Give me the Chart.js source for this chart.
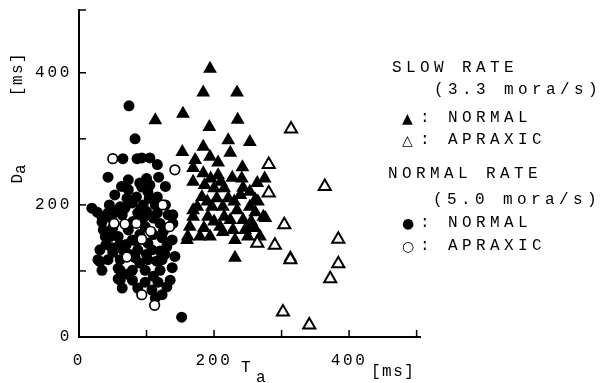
<!DOCTYPE html>
<html>
<head>
<meta charset="utf-8">
<script src="https://cdn.jsdelivr.net/npm/chart.js@4.4.1/dist/chart.umd.min.js"></script>
<style>
  html, body { margin: 0; padding: 0; background: #fff; }
  #wrap { position: relative; width: 604px; height: 383px; overflow: hidden; }
  canvas { position: absolute; left: 0; top: 0; }
  .t { position: absolute; font-family: 'Liberation Mono', 'DejaVu Sans Mono', monospace; font-size: 16px; line-height: 16px; color: #000; white-space: pre; }
  .lg { letter-spacing: 4.4px; }
  .mk { position: absolute; font-family: 'DejaVu Sans', sans-serif; font-size: 14px; line-height: 16px; color: #000; }
</style>
</head>
<body>
<div id="wrap">
  <canvas id="c" width="604" height="383"></canvas>

  <!-- axis titles -->
  <div class="t" style="left:241px; top:360px;">T</div>
  <div class="t" style="left:256px; top:370px;">a</div>
  <div class="t" style="left:371px; top:364px; letter-spacing:1.5px;">[ms]</div>
  <div class="t" style="left:18px; top:174px; transform:translate(-50%,-50%) rotate(-90deg);">D<span style="position:relative; top:3px;">a</span></div>
  <div class="t" style="left:18px; top:74px; transform:translate(-50%,-50%) rotate(-90deg); letter-spacing:1.5px;">[ms]</div>

  <!-- legend -->
  <div class="t lg" style="left:392px; top:60px;">SLOW RATE</div>
  <div class="t lg" style="left:434px; top:82px;">(3.3 mora/s)</div>
  <div class="mk" style="left:402px; top:110px;">▲</div>
  <div class="t lg" style="left:420px; top:110px;">: NORMAL</div>
  <div class="mk" style="left:402px; top:132px;">△</div>
  <div class="t lg" style="left:420px; top:132px;">: APRAXIC</div>
  <div class="t lg" style="left:388px; top:166px;">NORMAL RATE</div>
  <div class="t lg" style="left:433px; top:192px;">(5.0 mora/s)</div>
  <div class="mk" style="left:402px; top:215px;">●</div>
  <div class="t lg" style="left:420px; top:215px;">: NORMAL</div>
  <div class="mk" style="left:402px; top:238px;">○</div>
  <div class="t lg" style="left:420px; top:238px;">: APRAXIC</div>
</div>
<script>
// ---- data (T_a, D_a in ms) ----
const slowNormalT = [194,184,234,113,154,193,235,153,184,221,253,172,194,224,169,184,206,242,169,206,227,241,264,275,182,204,221,239,261,175,197,213,234,253,273,169,191,224,243,164,209,228,246,161,179,194,213,231,250,268,231,169,160,243,253,265,261,276,250,313,186,200,215,190,200,215,255,260,185,230,210,195];
const slowNormalD = [406,370,370,328,338,318,329,280,288,298,295,268,273,279,256,248,264,257,235,245,241,240,233,240,212,210,210,215,208,197,197,197,192,197,182,182,182,177,177,167,167,162,162,152,152,152,159,147,152,152,120,192,147,226,220,205,189,180,165,120,230,225,225,205,175,182,175,165,165,205,235,240];

const slowApraxicT = [314,364,281,281,304,290,264,313,384,384,372,302,341];
const slowApraxicD = [315,228,261,218,170,139,142,117,148,111,88,38,18];

const normNormalT = [74,83,65,86,93,105,116,43,73,73,93,102,116,90,105,53,61,79,95,113,19,27,34,43,64,87,116,139,34,73,98,120,139,36,39,58,79,102,123,138,31,49,65,87,108,130,28,43,61,83,102,123,142,34,61,79,98,120,138,61,79,98,117,135,64,87,108,130,113,123,152,46,58,58,31,71,50,90,110,70,95,125,100,85,128,63,100,118,45,128,90,110,72,50,40,55,80,110,132,120,100,75,85,60,115,48,68,104,127,92];
const normNormalD = [350,300,270,270,271,271,261,242,238,223,227,220,212,233,230,215,197,203,200,200,195,189,182,188,185,188,188,185,174,162,167,172,172,162,152,152,147,142,150,147,132,135,132,132,132,137,117,117,117,120,117,117,122,101,101,101,101,101,105,86,86,83,83,86,74,74,71,76,59,64,30,152,104,88,114,210,165,155,155,140,180,160,190,212,228,228,240,242,200,200,112,92,95,128,140,190,175,180,185,130,125,125,145,140,115,180,195,210,125,195];

const normApraxicT = [50,142,124,134,52,68,85,93,106,71,93,112];
const normApraxicD = [270,253,200,167,172,171,172,148,160,121,64,48];

const xTickVals = [0,100,200,300,400,500];
const yTickVals = [0,100,200,300,400];
const xLabelVals = [0,200,400];
const yLabelVals = [0,200,400];

const pts = (xs, ys) => xs.map((v, i) => ({ x: v, y: ys[i] }));
const FONT = "'Liberation Mono', 'DejaVu Sans Mono', monospace";

const inwardTicks = {
  id: 'inwardTicks',
  beforeDraw(chart) { chart.ctx.letterSpacing = '2.7px'; },
  beforeDatasetsDraw(chart) {
    const { ctx, scales: { x, y }, chartArea: a } = chart;
    ctx.save();
    ctx.letterSpacing = '0px';
    ctx.strokeStyle = '#000';
    ctx.lineWidth = 1.5;
    xTickVals.forEach(v => {
      if (v === 0) return;
      const px = x.getPixelForValue(v);
      ctx.beginPath(); ctx.moveTo(px, a.bottom + 1); ctx.lineTo(px, a.bottom - 7); ctx.stroke();
    });
    yTickVals.concat([y.max]).forEach(v => {
      if (v === 0) return;
      const py = y.getPixelForValue(v);
      ctx.beginPath(); ctx.moveTo(a.left - 1, py); ctx.lineTo(a.left + 7, py); ctx.stroke();
    });
    ctx.restore();
  }
};

const noPad = s => { s.paddingTop = 0; s.paddingBottom = 0; s.paddingLeft = 0; s.paddingRight = 0; };

new Chart(document.getElementById('c'), {
  type: 'scatter',
  data: {
    datasets: [
      { label: 'NORMAL RATE APRAXIC', data: pts(normApraxicT, normApraxicD), pointStyle: 'circle', pointRadius: 4.8, backgroundColor: '#fff', borderColor: '#000', borderWidth: 1.7 },
      { label: 'NORMAL RATE NORMAL', data: pts(normNormalT, normNormalD), pointStyle: 'circle', pointRadius: 5.5, backgroundColor: '#000', borderColor: '#000', borderWidth: 0 },
      { label: 'SLOW RATE APRAXIC', data: pts(slowApraxicT, slowApraxicD), pointStyle: 'triangle', pointRadius: 7, backgroundColor: '#fff', borderColor: '#000', borderWidth: 2 },
      { label: 'SLOW RATE NORMAL', data: pts(slowNormalT, slowNormalD), pointStyle: 'triangle', pointRadius: 8, backgroundColor: '#000', borderColor: '#000', borderWidth: 0 }
    ]
  },
  options: {
    responsive: false,
    animation: false,
    events: [],
    layout: { padding: { left: 0, right: 184, top: 10, bottom: 0 } },
    plugins: { legend: { display: false }, tooltip: { enabled: false } },
    scales: {
      x: {
        type: 'linear', min: 0, max: 505,
        afterBuildTicks: s => { s.ticks = xTickVals.map(v => ({ value: v })); },
        afterFit: s => { s.height = 46; noPad(s); },
        grid: { display: false, drawTicks: false },
        border: { display: true, color: '#000', width: 2 },
        ticks: {
          autoSkip: false, maxRotation: 0, padding: 14, color: '#000',
          font: { family: FONT, size: 16 },
          callback: v => xLabelVals.includes(v) ? String(v) : ''
        }
      },
      y: {
        type: 'linear', min: 0, max: 495,
        afterBuildTicks: s => { s.ticks = yTickVals.map(v => ({ value: v })); },
        afterFit: s => { s.width = 79; noPad(s); },
        grid: { display: false, drawTicks: false },
        border: { display: true, color: '#000', width: 2 },
        ticks: {
          autoSkip: false, padding: 7, color: '#000',
          font: { family: FONT, size: 16 },
          callback: v => yLabelVals.includes(v) ? String(v) : ''
        }
      }
    }
  },
  plugins: [inwardTicks]
});
</script>
</body>
</html>
